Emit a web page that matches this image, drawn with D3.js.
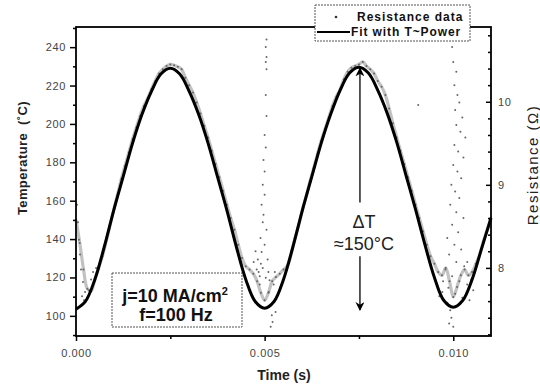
<!DOCTYPE html>
<html>
<head>
<meta charset="utf-8">
<script src="https://cdn.jsdelivr.net/npm/d3@7"></script>
<style>
  body { margin: 0; background: #fff; }
  svg { display: block; font-family: Arial, "Liberation Sans", sans-serif; }
</style>
</head>
<body>
<svg id="chart" width="540" height="385"></svg>
<script>
// Resistance data, sampled every 0.1 ms (Ohm)
var sampleStep = 0.0001;
var resistance = [
  8.58, 8.30, 7.98, 7.75, 7.72, 7.86, 8.00, 8.14, 8.32, 8.51,
  8.70, 8.88, 9.07, 9.23, 9.39, 9.55, 9.69, 9.83, 9.95, 10.04,
  10.15, 10.25, 10.34, 10.39, 10.43, 10.45, 10.44, 10.42, 10.39, 10.29,
  10.20, 10.11, 9.99, 9.86, 9.71, 9.57, 9.41, 9.25, 9.09, 8.93,
  8.76, 8.60, 8.46, 8.28, 8.12, 8.02, 7.98, 7.93, 7.84, 7.70,
  7.61, 7.70, 7.84, 7.89, 7.93, 7.98, 8.02, 8.16, 8.35, 8.51,
  8.70, 8.86, 9.04, 9.20, 9.37, 9.53, 9.67, 9.81, 9.95, 10.06,
  10.15, 10.27, 10.36, 10.41, 10.43, 10.45, 10.48, 10.43, 10.39, 10.34,
  10.25, 10.18, 10.08, 9.92, 9.74, 9.57, 9.41, 9.25, 9.09, 8.93,
  8.76, 8.60, 8.44, 8.28, 8.14, 8.05, 7.95, 7.91, 8.00, 7.84,
  7.65, 7.77, 7.91, 7.98, 7.91, 7.95, 8.05, 8.16, 8.32, 8.46,
  8.60
];

// noisy resistance points near the minima [time s, Ohm]
var spikesStart = [
  [0.000027, 8.76], [0.000053, 8.55], [0.00008, 8.34], [0.000106, 8.16], [0.000133, 7.98],
  [0.00016, 7.66], [0.000186, 7.83], [0.000213, 7.61], [0.00024, 7.71], [0.000293, 7.64],
  [0.000346, 7.73], [0.000399, 7.86], [0.000452, 7.95], [0.000532, 8.00]
];
var spikesMid = [
  [0.00505, 10.75], [0.00503, 10.66], [0.00505, 10.54], [0.00503, 10.48], [0.00505, 10.39],
  [0.00503, 10.08], [0.00505, 9.83], [0.00500, 9.60], [0.00503, 9.45], [0.00497, 9.30],
  [0.00500, 9.16], [0.00495, 9.00], [0.00500, 8.88], [0.00492, 8.76], [0.00497, 8.64],
  [0.00495, 8.55], [0.00505, 8.46], [0.00489, 8.36], [0.00500, 8.28], [0.00492, 8.19],
  [0.00508, 8.10], [0.00495, 8.00], [0.00503, 7.88], [0.00487, 7.80], [0.00511, 7.71],
  [0.00516, 7.55], [0.00519, 7.43], [0.00521, 7.35], [0.00516, 7.29], [0.00529, 7.47],
  [0.00479, 7.98], [0.00471, 8.07], [0.00476, 8.20], [0.00482, 8.10], [0.00484, 7.95],
  [0.00487, 7.90], [0.00490, 8.05], [0.00510, 7.95], [0.00513, 7.85], [0.00524, 7.80],
  [0.00527, 7.95]
];
var spikesEnd = [
  [0.00907, 9.96],
  [0.00997, 10.66], [0.01000, 10.48], [0.01008, 10.36], [0.01003, 10.20], [0.01011, 10.08],
  [0.01016, 9.99], [0.01005, 9.90], [0.01024, 9.81], [0.01008, 9.72], [0.01019, 9.64],
  [0.01032, 9.57], [0.01003, 9.48], [0.01013, 9.40], [0.01027, 9.33], [0.01000, 9.24],
  [0.01011, 9.16], [0.01021, 9.08], [0.00995, 9.00], [0.01005, 8.92], [0.01016, 8.84],
  [0.00992, 8.76], [0.01008, 8.67], [0.01027, 8.60], [0.00997, 8.52], [0.01013, 8.43],
  [0.00984, 8.36], [0.01003, 8.28], [0.01021, 8.22], [0.00989, 8.16], [0.01008, 8.07],
  [0.01029, 8.02], [0.00979, 7.98], [0.00997, 7.90], [0.01016, 7.84], [0.01037, 7.80],
  [0.00987, 7.76], [0.00971, 7.71], [0.01005, 7.69], [0.01024, 7.64], [0.01043, 7.61],
  [0.00984, 7.58], [0.00992, 7.49], [0.00995, 7.40], [0.00989, 7.33], [0.01000, 7.29],
  [0.01048, 7.86], [0.01053, 7.73], [0.01037, 8.07], [0.00973, 7.84], [0.00963, 7.66]
];

// Fit with T~Power, sampled every 0.25 ms (deg C)
var fitStep = 0.00025;
var fitTemp = [
  103.5, 107.5, 119, 136, 155, 172.5, 190, 205, 217, 226, 229,
  226, 217, 205, 190, 172.5, 155, 136, 119, 107.5, 104,
  107.5, 119, 136, 155, 172.5, 190, 205, 217.5, 226.5, 229.5,
  226.5, 217.5, 205.5, 190.5, 173, 155.5, 137, 120, 108, 104.5,
  108, 119, 135, 151
];

var timeTicks = [0, 0.005, 0.010];
var timeMinor = [0.0025, 0.0075];
var tempTicks = [100, 120, 140, 160, 180, 200, 220, 240];
var tempMinor = [90, 110, 130, 150, 170, 190, 210, 230, 250];
var resTicks = [8, 9, 10];
var resMinor = [7.2, 7.4, 7.6, 7.8, 8.2, 8.4, 8.6, 8.8, 9.2, 9.4, 9.6, 9.8, 10.2, 10.4, 10.6, 10.8];

(function () {
  var plotLeft = 76, plotRight = 491, plotTop = 27, plotBottom = 336;
  var svg = d3.select("#chart");

  var x = d3.scaleLinear().domain([0, 0.011]).range([plotLeft, plotRight]);
  var yT = d3.scaleLinear().domain([89.5, 250.5]).range([plotBottom, plotTop]);
  var yR = d3.scaleLinear().domain([7.18, 10.90]).range([plotBottom, plotTop]);

  // resistance data band
  var resPoints = resistance.map(function (r, i) { return [i * sampleStep, r]; });
  svg.append("path")
    .datum(resPoints)
    .attr("fill", "none")
    .attr("stroke", "#c2c2c2")
    .attr("stroke-width", 3.2)
    .attr("d", d3.line().x(d => x(d[0])).y(d => yR(d[1])).curve(d3.curveCatmullRom));

  svg.append("g").selectAll("circle")
    .data(resPoints.concat(spikesStart, spikesMid, spikesEnd))
    .enter().append("circle")
    .attr("cx", d => x(d[0]))
    .attr("cy", d => yR(d[1]))
    .attr("r", 1)
    .attr("fill", "#666");

  // fit curve
  var fitPoints = fitTemp.map(function (t, i) { return [i * fitStep, t]; });
  svg.append("path")
    .datum(fitPoints)
    .attr("fill", "none")
    .attr("stroke", "#000")
    .attr("stroke-width", 3)
    .attr("d", d3.line().x(d => x(d[0])).y(d => yT(d[1])).curve(d3.curveCatmullRom));

  // axes
  svg.append("g")
    .attr("transform", "translate(0," + plotBottom + ")")
    .call(d3.axisBottom(x).tickValues(timeTicks).tickSize(5).tickPadding(8).tickFormat(d3.format(".3f")));
  svg.append("g")
    .attr("transform", "translate(0," + plotBottom + ")")
    .call(d3.axisBottom(x).tickValues(timeMinor).tickSize(3).tickFormat(""));

  svg.append("g")
    .attr("transform", "translate(" + plotLeft + ",0)")
    .call(d3.axisLeft(yT).tickValues(tempTicks).tickSize(6).tickPadding(4));
  svg.append("g")
    .attr("transform", "translate(" + plotLeft + ",0)")
    .call(d3.axisLeft(yT).tickValues(tempMinor).tickSize(3).tickFormat(""));

  svg.append("g")
    .attr("transform", "translate(" + plotRight + ",0)")
    .call(d3.axisRight(yR).tickValues(resTicks).tickSize(-5).tickPadding(7).tickFormat(d3.format("d")));
  svg.append("g")
    .attr("transform", "translate(" + plotRight + ",0)")
    .call(d3.axisRight(yR).tickValues(resMinor).tickSize(-3).tickFormat(""));

  svg.selectAll(".domain").remove();
  svg.selectAll(".tick line").attr("stroke", "#000").attr("stroke-width", 1.5);
  svg.selectAll(".tick text")
    .attr("font-size", 11)
    .attr("fill", "#444")
    .attr("letter-spacing", 0.6)
    .attr("font-family", "Arial, 'Liberation Sans', sans-serif");

  // frame
  svg.append("rect")
    .attr("x", plotLeft).attr("y", plotTop)
    .attr("width", plotRight - plotLeft).attr("height", plotBottom - plotTop)
    .attr("fill", "none").attr("stroke", "#000").attr("stroke-width", 1.8);

  // axis titles
  svg.append("text")
    .attr("x", 284).attr("y", 380)
    .attr("text-anchor", "middle")
    .attr("font-size", 14).attr("font-weight", "bold").attr("fill", "#222")
    .text("Time (s)");

  svg.append("text")
    .attr("transform", "translate(27,158) rotate(-90)")
    .attr("text-anchor", "middle")
    .attr("font-size", 13).attr("font-weight", "bold").attr("fill", "#222")
    .attr("letter-spacing", 0.4)
    .attr("xml:space", "preserve")
    .text("Temperature  (\u02daC)");

  svg.append("text")
    .attr("transform", "translate(538,165) rotate(-90)")
    .attr("text-anchor", "middle")
    .attr("font-size", 15).attr("fill", "#222")
    .attr("letter-spacing", 1.5)
    .text("Resistance (\u03a9)");

  // legend
  var legend = svg.append("g");
  legend.append("rect")
    .attr("x", 315).attr("y", 5).attr("width", 155).attr("height", 36)
    .attr("fill", "#fff").attr("stroke", "#555").attr("stroke-width", 1)
    .attr("stroke-dasharray", "2,1");
  legend.append("circle").attr("cx", 336).attr("cy", 17).attr("r", 1.3).attr("fill", "#333");
  legend.append("line").attr("x1", 317).attr("x2", 350).attr("y1", 32).attr("y2", 32)
    .attr("stroke", "#000").attr("stroke-width", 2);
  legend.append("text").attr("x", 357).attr("y", 21)
    .attr("font-size", 12).attr("font-weight", "bold").attr("letter-spacing", 1).attr("fill", "#111")
    .text("Resistance data");
  legend.append("text").attr("x", 351).attr("y", 36)
    .attr("font-size", 12).attr("font-weight", "bold").attr("letter-spacing", 0.9).attr("fill", "#111")
    .text("Fit with T~Power");

  // condition box
  svg.append("rect")
    .attr("x", 112).attr("y", 273).attr("width", 130).attr("height", 54)
    .attr("fill", "#fff").attr("stroke", "#555").attr("stroke-width", 1)
    .attr("stroke-dasharray", "2,1");
  var cond = svg.append("text")
    .attr("x", 175).attr("y", 302)
    .attr("text-anchor", "middle")
    .attr("font-size", 18).attr("font-weight", "bold").attr("fill", "#111");
  cond.append("tspan").text("j=10 MA/cm");
  cond.append("tspan").attr("font-size", 11).attr("dy", -7).text("2");
  svg.append("text")
    .attr("x", 176).attr("y", 321)
    .attr("text-anchor", "middle")
    .attr("font-size", 18).attr("font-weight", "bold").attr("fill", "#111")
    .text("f=100 Hz");

  // delta T arrow
  var defs = svg.append("defs");
  defs.append("marker")
    .attr("id", "head")
    .attr("viewBox", "0 0 10 10")
    .attr("refX", 9).attr("refY", 5)
    .attr("markerWidth", 9).attr("markerHeight", 9)
    .attr("markerUnits", "userSpaceOnUse")
    .attr("orient", "auto")
    .append("path").attr("d", "M0,0 L10,5 L0,10 L3,5 Z").attr("fill", "#000");

  var ax = x(0.0075) + 1;
  svg.append("line")
    .attr("x1", ax).attr("x2", ax).attr("y1", yT(159)).attr("y2", yT(229))
    .attr("stroke", "#000").attr("stroke-width", 1.3).attr("marker-end", "url(#head)");
  svg.append("line")
    .attr("x1", ax).attr("x2", ax).attr("y1", yT(131)).attr("y2", yT(103))
    .attr("stroke", "#000").attr("stroke-width", 1.3).attr("marker-end", "url(#head)");
  svg.append("text")
    .attr("x", ax + 4).attr("y", 228)
    .attr("text-anchor", "middle").attr("font-size", 18).attr("fill", "#222")
    .text("\u0394T");
  svg.append("text")
    .attr("x", ax + 4).attr("y", 250)
    .attr("text-anchor", "middle").attr("font-size", 18).attr("fill", "#222")
    .text("\u2248150\u00b0C");
})();
</script>
</body>
</html>
